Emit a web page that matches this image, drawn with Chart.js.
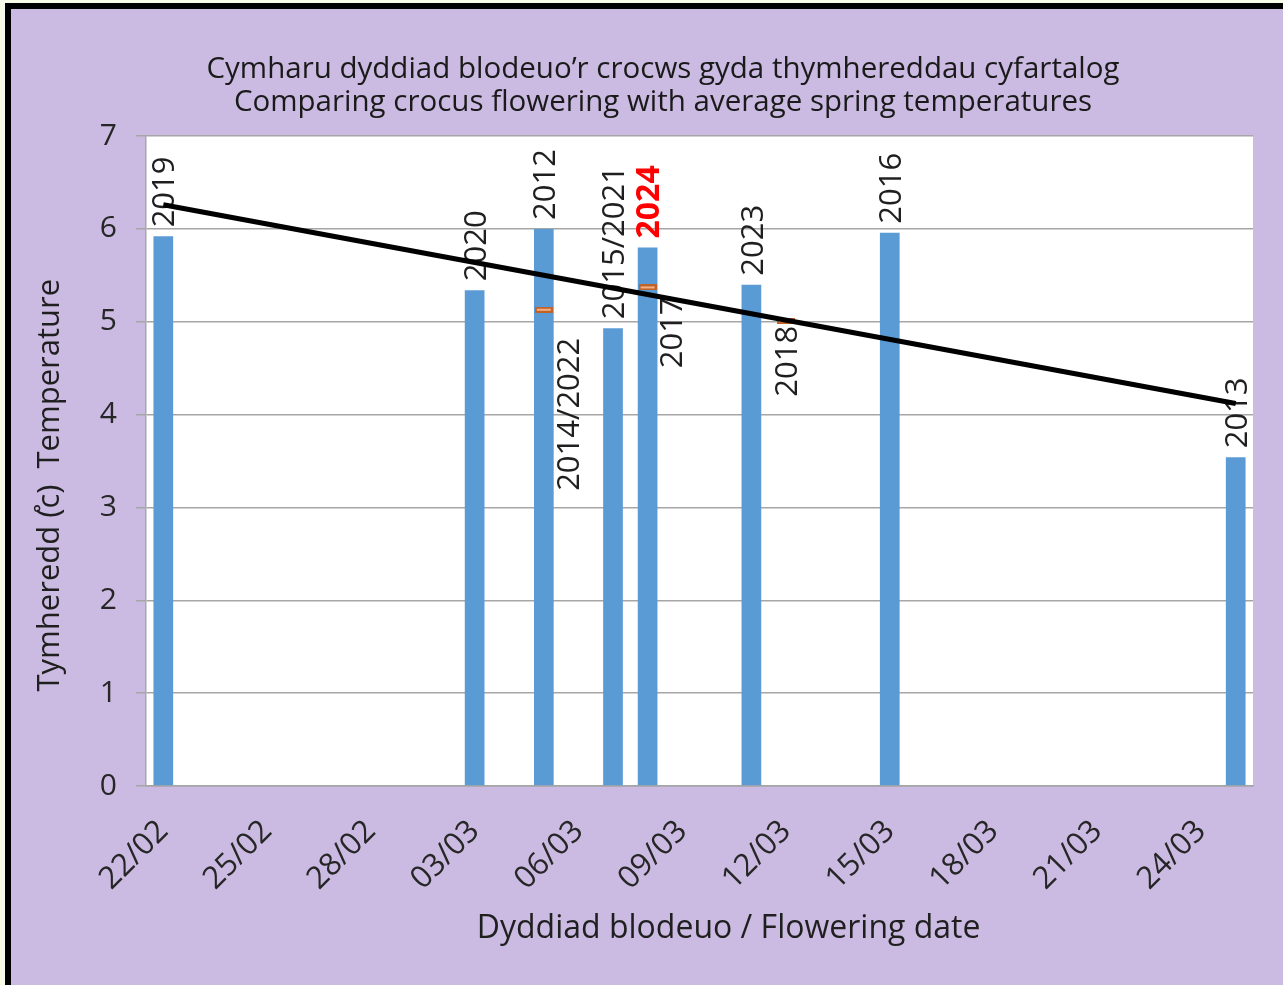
<!DOCTYPE html>
<html>
<head>
<meta charset="utf-8">
<script src="https://cdn.jsdelivr.net/npm/chart.js@4.4.1/dist/chart.umd.min.js"></script>
<style>
  html, body { margin: 0; padding: 0; background: #f8fbe6; overflow: hidden; }
  #frame {
    position: absolute; left: 5px; top: 3px;
    width: 1272px; height: 976px;
    background: #cbbbe2;
    border-left: 6px solid #000; border-top: 6px solid #000;
    overflow: hidden;
  }
  canvas { display: block; }
</style>
</head>
<body>
<div id="frame"><canvas id="crocusChart" width="1304" height="976"></canvas></div>
<script>
// every day on the axis, 22 Feb to 25 Mar
const dayLabels = [
  '22/02', '23/02', '24/02', '25/02', '26/02', '27/02', '28/02',
  '01/03', '02/03', '03/03', '04/03', '05/03', '06/03', '07/03', '08/03',
  '09/03', '10/03', '11/03', '12/03', '13/03', '14/03', '15/03', '16/03',
  '17/03', '18/03', '19/03', '20/03', '21/03', '22/03', '23/03', '24/03', '25/03'
];

// bars: flowering date and average spring temperature
const bloomDates = ['22/02', '03/03', '05/03', '07/03', '08/03', '11/03', '15/03', '25/03'];
const bloomYears = ['2019', '2020', '2012', '2015/2021', '2024', '2023', '2016', '2013'];
const bloomTemps = [5.92, 5.34, 6.0, 4.93, 5.80, 5.40, 5.96, 3.54];

// orange markers for years sharing a date
const extraDates = ['05/03', '08/03', '12/03'];
const extraYears = ['2014/2022', '2017', '2018'];
const extraTemps = [5.13, 5.37, 5.01];

// trend line ends
const trendDates = ['22/02', '25/03'];
const trendTemps = [6.26, 4.12];

const yTicks = [0, 1, 2, 3, 4, 5, 6, 7];

Chart.defaults.font.family = "'Open Sans', 'Liberation Sans', sans-serif";

// little orange dash marker
const marker = document.createElement('canvas');
marker.width = 18;
marker.height = 6;
const mctx = marker.getContext('2d');
mctx.fillStyle = '#f4b183';
mctx.fillRect(1, 1, 16, 4);
mctx.strokeStyle = '#c0622a';
mctx.lineWidth = 2;
mctx.strokeRect(1, 1, 16, 4);

const plotBackground = {
  id: 'plotBackground',
  beforeDraw(chart) {
    const a = chart.chartArea;
    const ctx = chart.ctx;
    ctx.save();
    ctx.fillStyle = '#ffffff';
    ctx.fillRect(a.left, a.top, a.right - a.left, a.bottom - a.top);
    ctx.restore();
  }
};

// nudges for the labels under the orange markers
const extraNudge = [[24, 28], [23, 10], [0, 5]];

const yearLabels = {
  id: 'yearLabels',
  afterDatasetDraw(chart, args) {
    if (args.index !== 0) return;
    const ctx = chart.ctx;
    const drawUp = (text, x, y, align, size, bold, color) => {
      ctx.save();
      ctx.translate(x, y);
      ctx.rotate(-Math.PI / 2);
      ctx.font = (bold ? 'bold ' : '') + size + "px 'Open Sans', sans-serif";
      ctx.fillStyle = color;
      ctx.textAlign = align;
      ctx.textBaseline = 'alphabetic';
      ctx.fillText(text, 0, size * 0.36);
      ctx.restore();
    };
    chart.getDatasetMeta(0).data.forEach((bar, i) => {
      const yr = bloomYears[i];
      if (yr === '2024') {
        drawUp(yr, bar.x, bar.y - 9, 'left', 32, true, '#ff0000');
      } else {
        drawUp(yr, bar.x, bar.y - 9, 'left', 31, false, '#1f1f1f');
      }
    });
    chart.getDatasetMeta(1).data.forEach((pt, i) => {
      const n = extraNudge[i];
      drawUp(extraYears[i], pt.x + n[0], pt.y + n[1], 'right', 31, false, '#1f1f1f');
    });
  }
};

const ctx = document.getElementById('crocusChart').getContext('2d');

new Chart(ctx, {
  type: 'bar',
  data: {
    labels: dayLabels,
    datasets: [
      {
        type: 'bar',
        label: 'Flowering',
        data: bloomDates.map((d, i) => ({ x: d, y: bloomTemps[i] })),
        backgroundColor: '#5b9bd5',
        barPercentage: 0.57,
        categoryPercentage: 1,
        order: 3
      },
      {
        type: 'line',
        label: 'Other years',
        data: extraDates.map((d, i) => ({ x: d, y: extraTemps[i] })),
        showLine: false,
        pointStyle: marker,
        pointRadius: 8,
        order: 2
      },
      {
        type: 'line',
        label: 'Trend',
        data: trendDates.map((d, i) => ({ x: d, y: trendTemps[i] })),
        borderColor: '#000000',
        borderWidth: 5,
        pointRadius: 0,
        fill: false,
        order: 1
      }
    ]
  },
  options: {
    responsive: false,
    animation: false,
    devicePixelRatio: 1,
    layout: { padding: { left: 62, right: 62, top: 0, bottom: 0 } },
    plugins: {
      legend: { display: false },
      tooltip: { enabled: false },
      title: {
        display: true,
        text: [
          'Cymharu dyddiad blodeuo\u2019r crocws gyda thymhereddau cyfartalog',
          'Comparing crocus flowering with average spring temperatures'
        ],
        color: '#1a1a1a',
        font: { size: 29.5, weight: 'normal', lineHeight: 1.12 },
        padding: { top: 44, bottom: 17 }
      }
    },
    scales: {
      x: {
        grid: { display: false, drawTicks: false },
        border: { display: true, color: '#a6a6a6', width: 1.5 },
        ticks: {
          autoSkip: false,
          minRotation: 45,
          maxRotation: 45,
          padding: 27,
          color: '#262626',
          font: { size: 31 },
          callback: function (value, index) {
            return index % 3 === 0 ? this.getLabelForValue(value) : '';
          }
        },
        title: {
          display: true,
          text: '       Dyddiad blodeuo / Flowering date',
          color: '#1f1f1f',
          font: { size: 32 },
          padding: { top: 0, bottom: 37 }
        },
        afterFit: (scale) => { scale.height = 199; }
      },
      y: {
        min: 0,
        max: 7,
        afterBuildTicks: (scale) => { scale.ticks = yTicks.map(v => ({ value: v })); },
        grid: { color: '#a6a6a6', lineWidth: 1.5, tickLength: 10 },
        border: { display: true, color: '#a6a6a6', width: 1.5 },
        ticks: { padding: 19, color: '#262626', font: { size: 30 } },
        title: {
          display: true,
          text: 'Tymheredd (\u030Ac)  Temperature      ',
          color: '#1f1f1f',
          font: { size: 31 },
          padding: { top: -41 }
        },
        afterFit: (scale) => { scale.width = 73; }
      }
    }
  },
  plugins: [plotBackground, yearLabels]
});
</script>
</body>
</html>
